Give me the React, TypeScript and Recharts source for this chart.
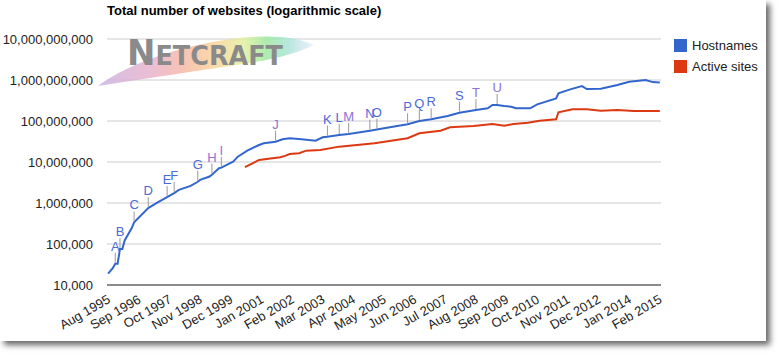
import React from 'react';
import { LineChart, Line, XAxis, YAxis, CartesianGrid } from 'recharts';

const FONT = "Arial, 'Liberation Sans', sans-serif";
const TITLE = 'Total number of websites (logarithmic scale)';

// x = months since Aug 1995
const tickLabels = [
  'Aug 1995', 'Sep 1996', 'Oct 1997', 'Nov 1998', 'Dec 1999', 'Jan 2001', 'Feb 2002',
  'Mar 2003', 'Apr 2004', 'May 2005', 'Jun 2006', 'Jul 2007', 'Aug 2008', 'Sep 2009',
  'Oct 2010', 'Nov 2011', 'Dec 2012', 'Jan 2014', 'Feb 2015',
];
const yTicks = [1e4, 1e5, 1e6, 1e7, 1e8, 1e9, 1e10];

const hostMonths = [
  0, 2, 3, 4, 5, 6, 7, 10, 11, 17, 21, 25, 28, 30, 35, 38, 39, 43, 44, 47, 48, 53, 55, 59,
  64, 66, 71, 74, 77, 82, 88, 91, 93, 98, 102, 111, 114, 117, 127, 132, 137, 144, 149, 156,
  161, 163, 165, 168, 171, 173, 179, 182, 190, 191, 196, 201, 203, 209, 216, 221, 228, 231, 234,
];
const hostValues = [
  19000, 26000, 33000, 33000, 75000, 75000, 122000, 245000, 336000, 750000, 1030000, 1390000,
  1750000, 2090000, 2620000, 3300000, 3660000, 4420000, 4900000, 7060000, 7300000, 10200000,
  13500000, 18900000, 26000000, 28600000, 31300000, 35900000, 37900000, 35900000, 33200000,
  40100000, 41500000, 45600000, 48500000, 58100000, 62000000, 66400000, 83200000, 100000000,
  110000000, 132000000, 159000000, 185000000, 204000000, 245000000, 245000000, 232000000,
  223000000, 204000000, 204000000, 255000000, 356000000, 472000000, 590000000, 711000000,
  601000000, 611000000, 752000000, 904000000, 995000000, 889000000, 875000000,
];

const activeMonths = [
  58, 64, 73, 75, 77, 81, 84, 90, 98, 113, 127, 132, 141, 145, 155, 163, 168, 172, 178, 183,
  190, 191, 197, 203, 209, 216, 223, 234,
];
const activeValues = [
  7470000, 11200000, 13100000, 14100000, 15700000, 16400000, 18900000, 19700000, 23700000,
  28600000, 37900000, 50200000, 58100000, 70300000, 75500000, 84500000, 76900000, 84500000,
  91000000, 101600000, 110000000, 163000000, 193000000, 193000000, 178000000, 185000000,
  175000000, 175000000,
];

const noteLetters = ['A', 'B', 'C', 'D', 'E', 'F', 'G', 'H', 'I', 'J', 'K', 'L', 'M', 'N', 'O', 'P', 'Q', 'R', 'S', 'T', 'U'];
const noteMonths = [3, 5, 11, 17, 25, 28, 38, 44, 48, 71, 93, 98, 102, 111, 114, 127, 132, 137, 149, 156, 165];
const purpleNotes = ['H', 'I', 'J', 'M', 'T', 'U'];

const hostData = hostMonths.map((m, i) => {
  const k = noteMonths.indexOf(m);
  return { m, v: hostValues[i], note: k >= 0 ? noteLetters[k] : '' };
});
const activeData = activeMonths.map((m, i) => ({ m, v: activeValues[i] }));

const BLUE = '#3366cc';
const RED = '#dc3912';

const renderNote = (props: any) => {
  const { cx, cy, payload, index } = props;
  if (!payload || !payload.note) return <g key={`n-${index}`} />;
  const c = purpleNotes.includes(payload.note) ? '#8f72d8' : '#4a6ad8';
  return (
    <g key={`n-${index}`}>
      <line x1={cx} y1={cy - 1} x2={cx} y2={cy - 11} stroke="#999" strokeWidth={1} />
      <text x={cx} y={cy - 13} textAnchor="middle" fontSize={13} fill={c} fontFamily={FONT}>
        {payload.note}
      </text>
    </g>
  );
};

const XTick = (props: any) => {
  const { x, y, payload } = props;
  const label = tickLabels[Math.round(payload.value / 13)];
  const ax = x + 3;
  const ay = y + 17;
  return (
    <text
      x={ax}
      y={ay}
      transform={`rotate(-30 ${ax} ${ay})`}
      textAnchor="end"
      fontSize={13}
      fill="#222"
      fontFamily={FONT}
    >
      {label}
    </text>
  );
};

const Logo = () => (
  <svg width={766} height={341} style={{ position: 'absolute', left: 0, top: 0, pointerEvents: 'none' }}>
    <defs>
      <linearGradient id="brush" x1="96" y1="0" x2="314" y2="0" gradientUnits="userSpaceOnUse">
        <stop offset="0" stopColor="#c8b4e4" />
        <stop offset="0.25" stopColor="#e8b2cc" />
        <stop offset="0.4" stopColor="#f6b8a6" />
        <stop offset="0.55" stopColor="#f8d49a" />
        <stop offset="0.68" stopColor="#e0f0a0" />
        <stop offset="0.78" stopColor="#a0e8a0" />
        <stop offset="0.88" stopColor="#a8e4d6" />
        <stop offset="1" stopColor="#c6d8f2" stopOpacity={0.4} />
      </linearGradient>
    </defs>
    <path
      d="M 98 86 C 130 62, 190 42, 250 37 C 280 35, 300 38, 314 45 C 300 52, 280 58, 250 63 C 200 70, 150 78, 98 86 Z"
      fill="url(#brush)"
      opacity={0.85}
    />
    <text
      x={127}
      y={65}
      fontWeight="bold"
      fill="#8a8a8a"
      fontFamily="'DejaVu Sans'"
      textLength={156}
      lengthAdjust="spacingAndGlyphs"
    >
      <tspan fontSize={36}>N</tspan>
      <tspan fontSize={27}>ETCRAFT</tspan>
    </text>
  </svg>
);

const legendItems = [
  { name: 'Hostnames', color: BLUE },
  { name: 'Active sites', color: RED },
];

export default function App() {
  return (
    <div style={{ position: 'absolute', left: 0, top: 0, width: 781, height: 356, background: '#fff' }}>
      <div
        style={{
          position: 'absolute',
          left: 0,
          top: 0,
          width: 766,
          height: 341,
          background: '#fff',
          boxShadow: '4px 4px 6px rgba(0,0,0,0.6)',
          fontFamily: FONT,
        }}
      >
        <LineChart width={766} height={341} margin={{ top: 39, right: 105, bottom: 0, left: 8 }}>
          <CartesianGrid vertical={false} stroke="#ccc" />
          <XAxis
            dataKey="m"
            type="number"
            domain={[-0.5, 234.5]}
            ticks={tickLabels.map((_, i) => i * 13)}
            allowDataOverflow
            height={56}
            tickLine={false}
            tickSize={0}
            tickMargin={0}
            axisLine={{ stroke: '#333' }}
            tick={<XTick />}
            interval={0}
          />
          <YAxis
            scale="log"
            domain={[1e4, 1e10]}
            ticks={yTicks}
            allowDataOverflow
            width={99}
            axisLine={false}
            tickLine={false}
            tickSize={6}
            tickMargin={8}
            interval={0}
            tickFormatter={(v: number) => v.toLocaleString('en-US')}
            tick={{ fontSize: 13, fill: '#222', fontFamily: FONT }}
          />
          <Line
            data={activeData}
            dataKey="v"
            stroke={RED}
            strokeWidth={2}
            dot={false}
            isAnimationActive={false}
          />
          <Line
            data={hostData}
            dataKey="v"
            stroke={BLUE}
            strokeWidth={2}
            dot={renderNote}
            activeDot={false}
            isAnimationActive={false}
          />
        </LineChart>
        <Logo />
        <div style={{ position: 'absolute', left: 107, top: 3, fontSize: 13, fontWeight: 'bold', color: '#000', whiteSpace: 'nowrap' }}>
          {TITLE}
        </div>
        {legendItems.map((it, i) => (
          <div key={it.name} style={{ position: 'absolute', left: 674, top: 39 + i * 21, height: 13, display: 'flex', alignItems: 'center' }}>
            <div style={{ width: 13, height: 13, background: it.color }} />
            <span style={{ marginLeft: 5, fontSize: 13, color: '#222', whiteSpace: 'nowrap' }}>{it.name}</span>
          </div>
        ))}
      </div>
    </div>
  );
}
